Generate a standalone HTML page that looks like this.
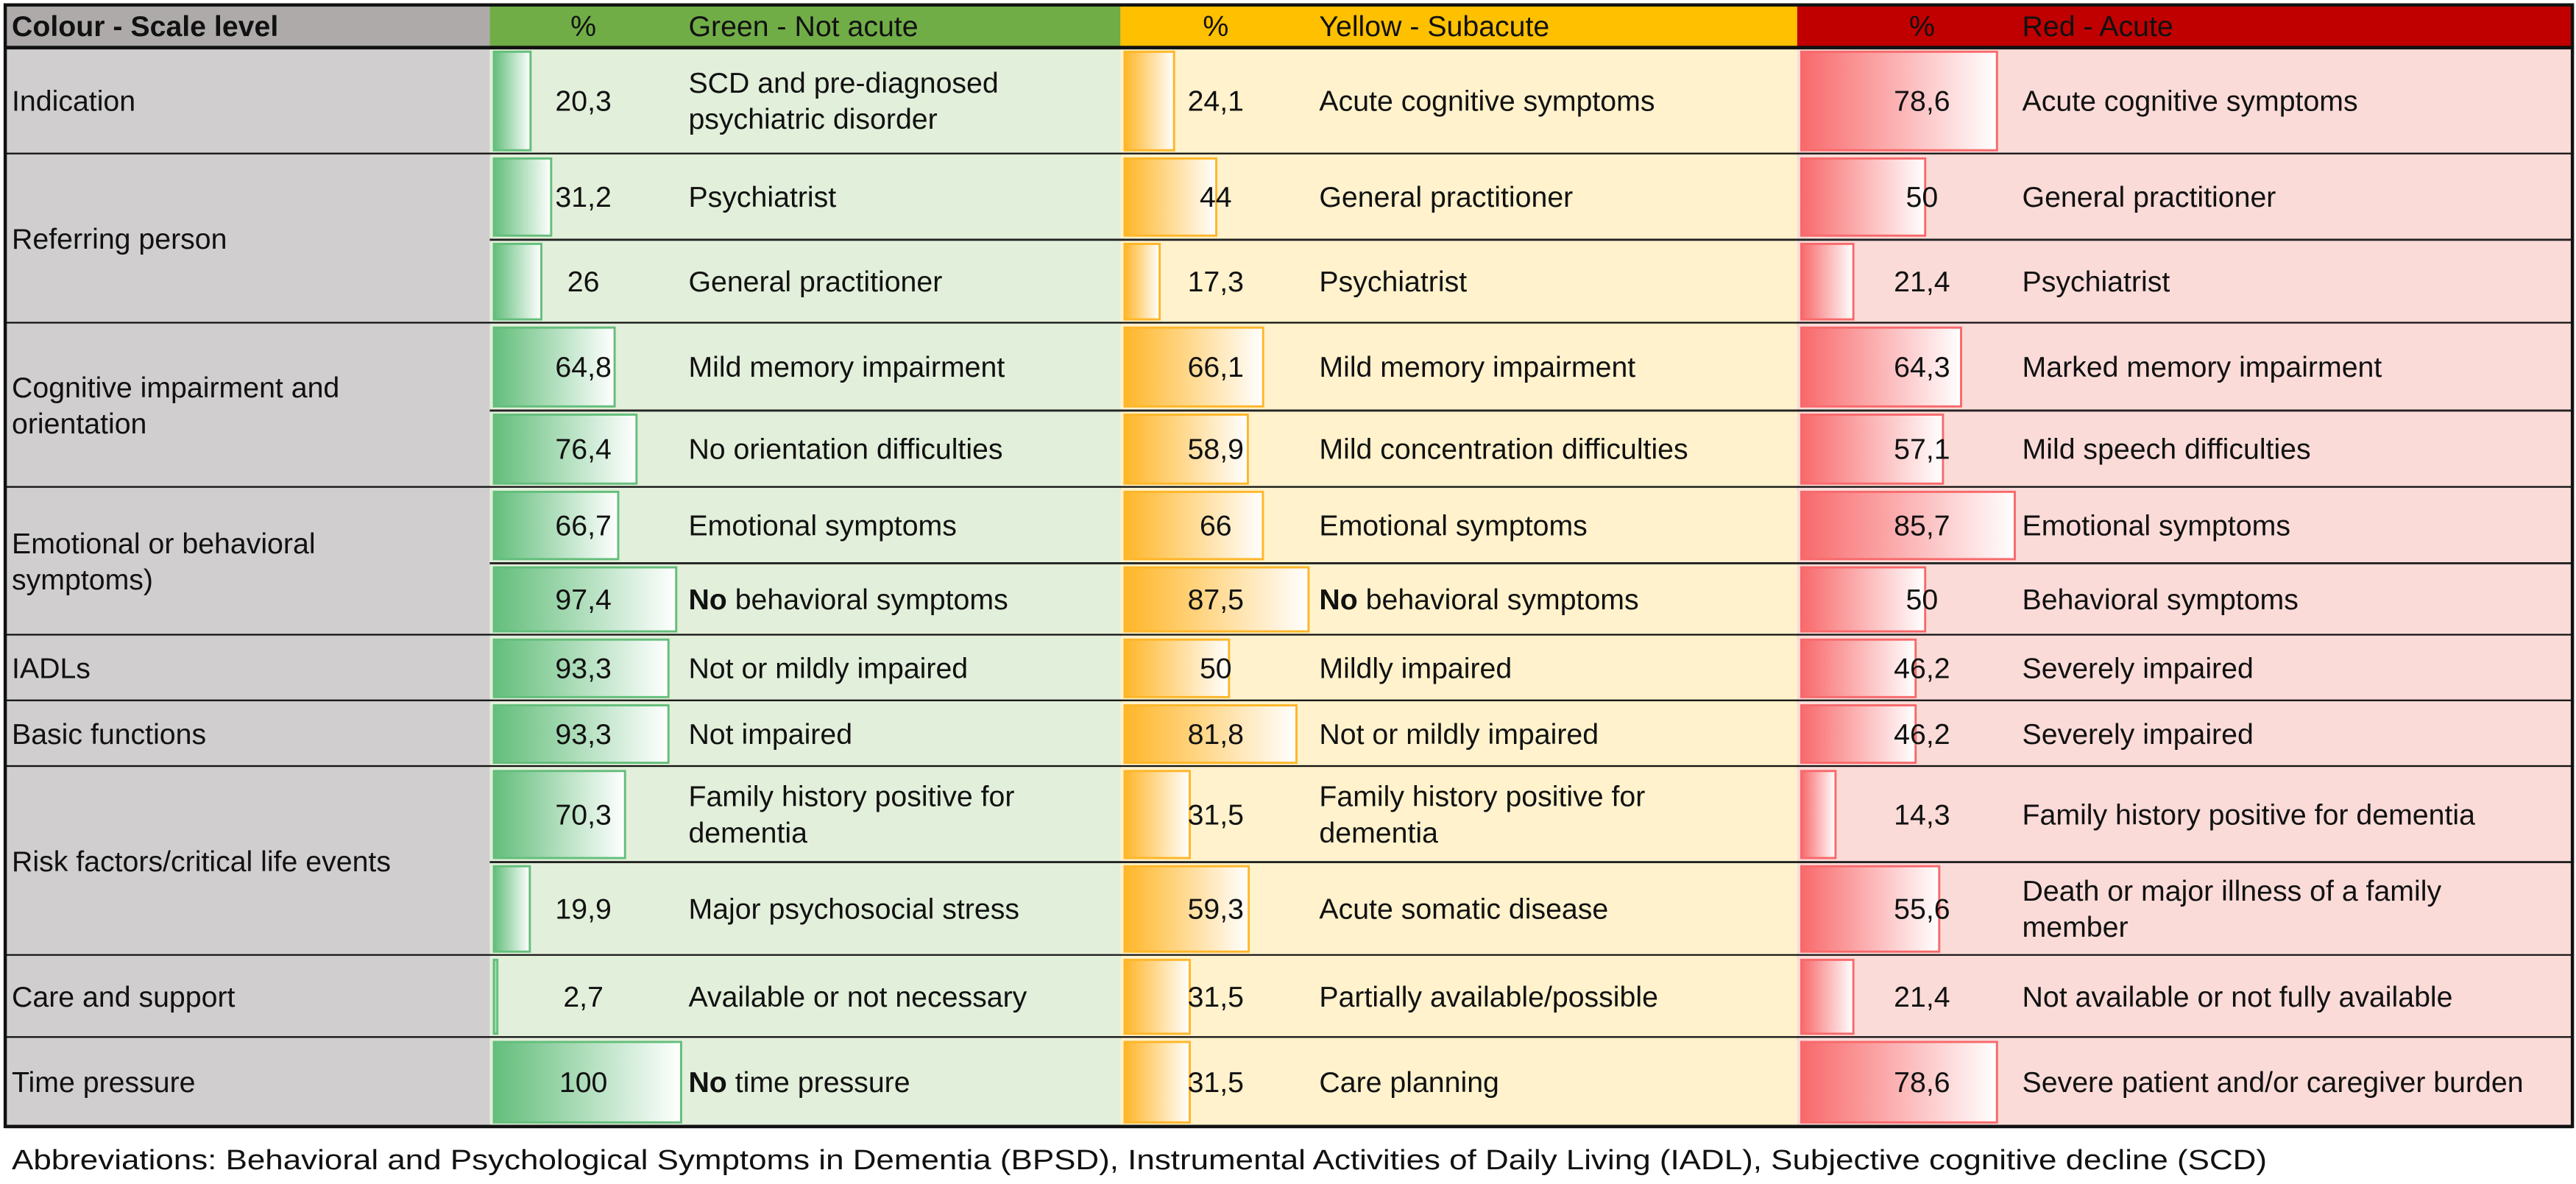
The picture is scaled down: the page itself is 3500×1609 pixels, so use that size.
<!DOCTYPE html>
<html><head><meta charset="utf-8"><style>
html,body{margin:0;padding:0;background:#fff;width:3500px;height:1609px;overflow:hidden}
svg{display:block}
text{font-family:"Liberation Sans",Arial,sans-serif;fill:#111}
</style></head><body>
<svg id="chart" width="3500" height="1609" viewBox="0 0 1568 721" xmlns="http://www.w3.org/2000/svg">
<defs>
<linearGradient id="gG" x1="0" x2="1"><stop offset="0" stop-color="#63be7b"/><stop offset="1" stop-color="#ffffff"/></linearGradient>
<linearGradient id="gY" x1="0" x2="1"><stop offset="0" stop-color="#ffb628"/><stop offset="1" stop-color="#ffffff"/></linearGradient>
<linearGradient id="gR" x1="0" x2="1"><stop offset="0" stop-color="#f8696b"/><stop offset="1" stop-color="#ffffff"/></linearGradient>
</defs>
<g id="layer"></g>
<text x="7" y="712" font-size="17" textLength="1373" lengthAdjust="spacingAndGlyphs">Abbreviations: Behavioral and Psychological Symptoms in Dementia (BPSD), Instrumental Activities of Daily Living (IADL), Subjective cognitive decline (SCD)</text>
</svg>
<script>
const groups = ["Indication","Referring person","Cognitive impairment and|orientation","Emotional or behavioral|symptoms)","IADLs","Basic functions","Risk factors/critical life events","Care and support","Time pressure"];
const groupRows = [1,2,2,2,1,1,2,1,1];
const greenValues = [20.3,31.2,26,64.8,76.4,66.7,97.4,93.3,93.3,70.3,19.9,2.7,100];
const yellowValues = [24.1,44,17.3,66.1,58.9,66,87.5,50,81.8,31.5,59.3,31.5,31.5];
const redValues = [78.6,50,21.4,64.3,57.1,85.7,50,46.2,46.2,14.3,55.6,21.4,78.6];
const greenDesc = ["SCD and pre-diagnosed|psychiatric disorder","Psychiatrist","General practitioner","Mild memory impairment","No orientation difficulties","Emotional symptoms","*No* behavioral symptoms","Not or mildly impaired","Not impaired","Family history positive for|dementia","Major psychosocial stress","Available or not necessary","*No* time pressure"];
const yellowDesc = ["Acute cognitive symptoms","General practitioner","Psychiatrist","Mild memory impairment","Mild concentration difficulties","Emotional symptoms","*No* behavioral symptoms","Mildly impaired","Not or mildly impaired","Family history positive for|dementia","Acute somatic disease","Partially available/possible","Care planning"];
const redDesc = ["Acute cognitive symptoms","General practitioner","Psychiatrist","Marked memory impairment","Mild speech difficulties","Emotional symptoms","Behavioral symptoms","Severely impaired","Severely impaired","Family history positive for dementia","Death or major illness of a family|member","Not available or not fully available","Severe patient and/or caregiver burden"];

const NS="http://www.w3.org/2000/svg";
const L=document.getElementById('layer');
function el(tag,attrs,parent){const e=document.createElementNS(NS,tag);for(const k in attrs)e.setAttribute(k,attrs[k]);(parent||L).appendChild(e);return e;}
const rowEdges=[29,94,146,197,250,297,343,387,427,467,525,582,632,686];
const cols=[
 {x0:298,x1:682,bg:'#e2efda',hd:'#70ad47',grad:'url(#gG)',stroke:'#63be7b',pc:355,dx:419,maxW:115,maxV:100,vals:greenValues,desc:greenDesc,title:'Green - Not acute',key:'green'},
 {x0:682,x1:1094,bg:'#fff2cc',hd:'#ffc000',grad:'url(#gY)',stroke:'#ffb628',pc:740,dx:803,maxW:113,maxV:87.5,vals:yellowValues,desc:yellowDesc,title:'Yellow - Subacute',key:'yellow'},
 {x0:1094,x1:1566,bg:'#fadbd8',hd:'#c00000',grad:'url(#gR)',stroke:'#f8696b',pc:1170,dx:1231,maxW:131,maxV:85.7,vals:redValues,desc:redDesc,title:'Red - Acute',key:'red'}
];
const FS=17.6;
function lines(parent,str,x,ymid,name){
  const parts=str.split('|');const lh=22;
  parts.forEach((p,i)=>{
    const y=ymid+(i-(parts.length-1)/2)*lh+6;
    const t=el('text',{x:x,y:y,'font-size':FS},parent);
    
    
    const m=p.match(/^\*(.*?)\*(.*)$/);
    if(m){const b=el('tspan',{'font-weight':'bold'},t);b.textContent=m[1];const r=el('tspan',{},t);r.textContent=m[2];}
    else t.textContent=p;
  });
}
const hb=el('rect',{x:3,y:3,width:295,height:26,fill:'#aeaaaa'});


const ht=el('text',{x:7,y:22,'font-size':FS,'font-weight':'bold'});


ht.textContent='Colour - Scale level';
cols.forEach(c=>{
  const r=el('rect',{x:c.x0,y:3,width:c.x1-c.x0,height:26,fill:c.hd});
  
  
  const p=el('text',{x:c.pc,y:22,'font-size':FS,'text-anchor':'middle'});
  
  
  p.textContent='%';
  const t=el('text',{x:c.dx,y:22,'font-size':FS});
  
  
  t.textContent=c.title;
});
let ri=0;
groups.forEach((g,gi)=>{
  const y0=rowEdges[ri],y1=rowEdges[ri+groupRows[gi]];
  const lr=el('rect',{x:3,y:y0,width:295,height:y1-y0,fill:'#d0cece'});
  
  
  lines(L,g,7,(y0+y1)/2,'group-label');
  for(let k=0;k<groupRows[gi];k++){
    const i=ri+k,a=rowEdges[i],b=rowEdges[i+1];
    cols.forEach(c=>{
      const bg=el('rect',{x:c.x0,y:a,width:c.x1-c.x0,height:b-a,fill:c.bg});
      
      
      const w=c.vals[i]/c.maxV*c.maxW;
      const bar=el('rect',{x:c.x0+2.5,y:a+2.5,width:Math.max(w-1,0.5),height:b-a-5,fill:c.grad,stroke:c.stroke,'stroke-width':1.3});
      
      
      const v=el('text',{x:c.pc,y:(a+b)/2+6,'font-size':FS,'text-anchor':'middle'});
      
      
      v.textContent=String(c.vals[i]).replace('.',',');
      lines(L,c.desc[i],c.dx,(a+b)/2,c.key+'-description');
    });
    if(k>0){
      const s=el('line',{x1:298,x2:1566,y1:a,y2:a,stroke:'#222','stroke-width':1.3});
      
      
    }
  }
  const gl=el('line',{x1:3,x2:1566,y1:y1,y2:y1,stroke:'#111','stroke-width':2});
  
  
  ri+=groupRows[gi];
});
const hl=el('line',{x1:3,x2:1566,y1:29,y2:29,stroke:'#111','stroke-width':2.2});


const ob=el('rect',{x:3,y:3,width:1563,height:683,fill:'none',stroke:'#111','stroke-width':2});


</script>
</body></html>
